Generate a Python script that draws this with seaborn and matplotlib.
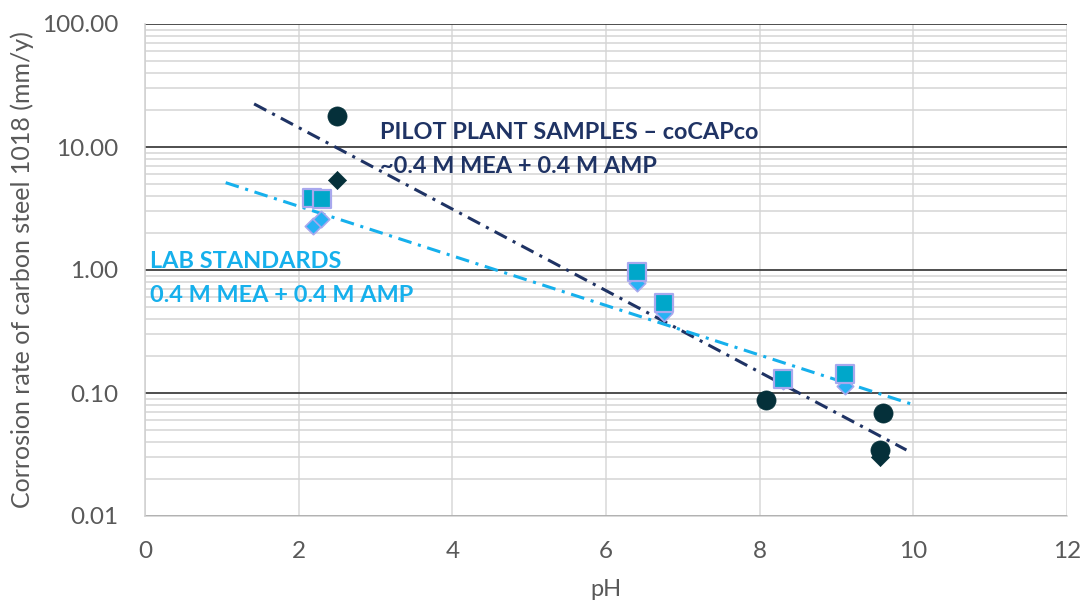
import matplotlib
matplotlib.use("Agg")
import matplotlib.pyplot as plt
import matplotlib.ticker as mticker
import numpy as np
import pandas as pd
import seaborn as sns

# Pilot plant samples (coCAPco)
pilot_circle_ph = [2.50, 8.08, 9.61, 9.56]
pilot_circle_rate = [17.9, 0.088, 0.0685, 0.0344]
pilot_diamond_ph = [2.50, 9.56]
pilot_diamond_rate = [5.4, 0.0303]

# Lab standards
lab_square_ph = [2.17, 2.31, 6.40, 6.76, 8.30, 9.11]
lab_square_rate = [3.85, 3.8, 0.97, 0.536, 0.129, 0.1426]
lab_diamond_ph = [2.19, 2.29, 6.40, 6.76, 8.30, 9.11]
lab_diamond_rate = [2.3, 2.6, 0.78, 0.447, 0.125, 0.114]

# Exponential trend lines (end points)
pilot_trend_ph = [1.42, 9.91]
pilot_trend_rate = [22.4, 0.0344]
lab_trend_ph = [1.05, 9.97]
lab_trend_rate = [5.13, 0.0815]

x_ticks = [0, 2, 4, 6, 8, 10, 12]
y_ticks = [0.01, 0.1, 1, 10, 100]
y_tick_labels = ["0.01", "0.10", "1.00", "10.00", "100.00"]

NAVY = "#1f3364"
CYAN = "#16b0ec"
DARK = "#05303a"
SQ_FILL = "#00a7ca"
DIA_FILL = "#27b2f4"
EDGE = "#a8a8ee"
TXT = "#595959"

sns.set_theme(style="white")
plt.rcParams["font.family"] = ["Lato", "DejaVu Sans"]

W, H = 1082, 601
fig = plt.figure(figsize=(W / 100, H / 100), dpi=100)
ax = fig.add_axes([145 / W, 1 - 516 / H, (1067 - 145) / W, (516 - 24) / H])

ax.set_yscale("log")
ax.set_xlim(0, 12)
ax.set_ylim(0.01, 100)

# grid: light minor, dark decade lines, light vertical lines
ax.yaxis.set_minor_locator(mticker.LogLocator(base=10, subs=np.arange(2, 10)))
ax.grid(which="minor", axis="y", color="#d4d4d4", lw=1.1)
ax.grid(which="major", axis="y", color="#404040", lw=1.3)
ax.grid(which="major", axis="x", color="#d9d9d9", lw=1.1)
ax.set_axisbelow(True)
for side in ["top", "right"]:
    ax.spines[side].set_visible(False)
for side in ["left", "bottom"]:
    ax.spines[side].set_color("#d0d0d0")
    ax.spines[side].set_linewidth(1.1)

# trend lines
dash = (4.5, 2.2, 1.0, 2.2)
sns.lineplot(x=pilot_trend_ph, y=pilot_trend_rate, ax=ax, color=NAVY,
             lw=2.2, dashes=False, linestyle=(0, dash))
sns.lineplot(x=lab_trend_ph, y=lab_trend_rate, ax=ax, color=CYAN,
             lw=2.2, dashes=False, linestyle=(0, dash))

# lab standards: diamonds under squares
sns.scatterplot(x=lab_diamond_ph, y=lab_diamond_rate, ax=ax, marker="D",
                s=70, color=DIA_FILL, edgecolor=EDGE, linewidth=1.2, zorder=3)
sns.scatterplot(x=lab_square_ph, y=lab_square_rate, ax=ax, marker="s",
                s=150, color=SQ_FILL, edgecolor=EDGE, linewidth=1.6, zorder=4)

# pilot plant samples: diamonds under circles
sns.scatterplot(x=pilot_diamond_ph, y=pilot_diamond_rate, ax=ax, marker="D",
                s=85, color=DARK, edgecolor=DARK, linewidth=0.5, zorder=5)
sns.scatterplot(x=pilot_circle_ph, y=pilot_circle_rate, ax=ax, marker="o",
                s=190, color=DARK, edgecolor=DARK, linewidth=0.5, zorder=6)

ax.set_xticks(x_ticks)
ax.set_xticklabels([str(t) for t in x_ticks])
ax.set_yticks(y_ticks)
ax.set_yticklabels(y_tick_labels)
ax.yaxis.set_minor_formatter(mticker.NullFormatter())
ax.tick_params(axis="both", which="both", length=0, labelsize=17.5,
               labelcolor=TXT)
ax.tick_params(axis="x", pad=18)
ax.tick_params(axis="y", pad=19)

ax.set_xlabel("pH", fontsize=17, color=TXT)
ax.set_ylabel("Corrosion rate of carbon steel 1018 (mm/y)", fontsize=18,
              color=TXT)
ax.xaxis.set_label_coords(0.5, (1 - 590 / H - (1 - 516 / H)) / ((516 - 24) / H),
                          transform=ax.transAxes)
ax.xaxis.label.set_va("center")
ax.yaxis.set_label_coords((22 - 145) / (1067 - 145), 0.5, transform=ax.transAxes)
ax.yaxis.label.set_va("center")


def px_text(x, y, s, color):
    fig.text(x / W, 1 - y / H, s, color=color, fontsize=16.9, fontweight="bold",
             va="baseline", ha="left")


px_text(380, 139, "PILOT PLANT SAMPLES \u2013 coCAPco", NAVY)
px_text(380, 173, "~0.4 M MEA + 0.4 M AMP", NAVY)
px_text(150, 268, "LAB STANDARDS", CYAN)
px_text(150, 302, "0.4 M MEA + 0.4 M AMP", CYAN)

fig.savefig("out.png", dpi=100)
